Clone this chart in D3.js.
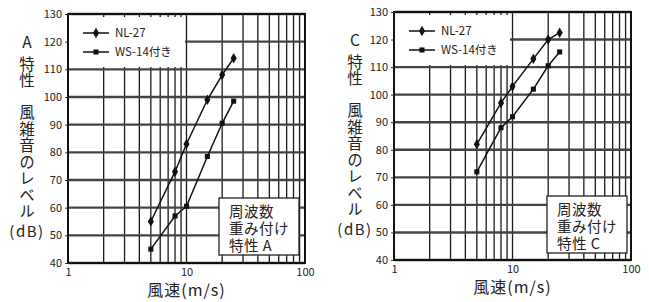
<!DOCTYPE html>
<html>
<head>
<meta charset="utf-8">
<script src="https://cdn.jsdelivr.net/npm/d3@7"></script>
<style>
  body { margin: 0; background: #fff; }
  text { font-family: "Noto Sans CJK JP", "DejaVu Sans", sans-serif; fill: #222; }
  .note { font-family: "Noto Sans CJK JP", sans-serif; font-size: 14.5px; line-height: 17px;
          color: #222; letter-spacing: 0.5px; padding: 4px 0 0 10px; margin: 0; }
</style>
</head>
<body>
<div id="chart"></div>
<script>
// wind speed (m/s) where each series was measured
const windSpeed = [5, 8, 10, 15, 20, 25];
const seriesNames = ["NL-27", "WS-14付き"];

// A-weighted wind noise level (dB)
const nlA = [55, 73, 83, 99, 108, 114];
const wsA = [45, 57, 60.5, 78.5, 90.5, 98.5];

// C-weighted wind noise level (dB)
const nlC = [82, 97, 103, 113, 120, 122.5];
const wsC = [72, 88, 92, 102, 110.5, 115.5];

const yTicks = [40, 50, 60, 70, 80, 90, 100, 110, 120, 130];
const xTickLabels = [1, 10, 100];

const svg = d3.select("#chart")
  .append("svg")
    .attr("width", 649)
    .attr("height", 302);

function drawPanel(p) {
  const x = d3.scaleLog().domain([1, 100]).range([p.left, p.right]);
  const y = d3.scaleLinear().domain([40, 130]).range([p.bottom, p.top]);
  const g = svg.append("g");

  // vertical log grid 1..100
  const xGrid = d3.range(1, 10).concat(d3.range(10, 101, 10));
  g.selectAll("vgrid")
    .data(xGrid)
    .enter()
    .append("line")
      .attr("x1", d => x(d)).attr("x2", d => x(d))
      .attr("y1", p.top).attr("y2", p.bottom)
      .attr("stroke", "#1a1a1a")
      .attr("stroke-width", 1.3);

  // horizontal grid
  g.selectAll("hgrid")
    .data(yTicks)
    .enter()
    .append("line")
      .attr("x1", p.left).attr("x2", p.right)
      .attr("y1", d => y(d)).attr("y2", d => y(d))
      .attr("stroke", "#444")
      .attr("stroke-width", 2.4);

  // legend box hides the grid under it
  g.append("rect")
    .attr("x", p.left + 1).attr("y", p.top + 3)
    .attr("width", p.legendW).attr("height", p.legendH)
    .attr("fill", "#fff");

  // frame
  g.append("rect")
    .attr("x", p.left).attr("y", p.top)
    .attr("width", p.right - p.left).attr("height", p.bottom - p.top)
    .attr("fill", "none")
    .attr("stroke", "#111")
    .attr("stroke-width", 2);

  // y axis: tick marks + labels
  const yAxis = g.append("g")
    .attr("transform", "translate(" + p.left + ",0)")
    .call(d3.axisLeft(y).tickValues(yTicks).tickSize(3).tickFormat(d3.format("d")));
  yAxis.select(".domain").remove();
  yAxis.selectAll("line").attr("stroke", "#333");
  yAxis.selectAll("text")
    .attr("font-size", 11)
    .attr("font-family", "'DejaVu Sans', sans-serif")
    .attr("fill", "#333");

  // x axis labels
  const xAxis = g.append("g")
    .attr("transform", "translate(0," + p.bottom + ")")
    .call(d3.axisBottom(x).tickValues(xTickLabels).tickSize(0).tickPadding(5).tickFormat(d3.format("d")));
  xAxis.select(".domain").remove();
  xAxis.selectAll("text")
    .attr("font-size", 11)
    .attr("font-family", "'DejaVu Sans', sans-serif")
    .attr("fill", "#333");

  // series
  const shapes = [d3.symbolDiamond, d3.symbolSquare];
  [p.nl, p.ws].forEach((vals, i) => {
    const pts = windSpeed.map((w, j) => [w, vals[j]]);
    g.append("path")
      .datum(pts)
      .attr("fill", "none")
      .attr("stroke", "#111")
      .attr("stroke-width", 1.5)
      .attr("d", d3.line().x(d => x(d[0])).y(d => y(d[1])));
    g.selectAll("mk" + i)
      .data(pts)
      .enter()
      .append("path")
        .attr("transform", d => "translate(" + x(d[0]) + "," + y(d[1]) + ")")
        .attr("d", d3.symbol().type(shapes[i]).size(i === 0 ? 32 : 26))
        .attr("fill", "#111");
  });

  // legend
  seriesNames.forEach((name, i) => {
    const ly = p.top + 19 + i * 19;
    g.append("line")
      .attr("x1", p.left + 15).attr("x2", p.left + 41)
      .attr("y1", ly).attr("y2", ly)
      .attr("stroke", "#111").attr("stroke-width", 1.5);
    g.append("path")
      .attr("transform", "translate(" + (p.left + 28) + "," + ly + ")")
      .attr("d", d3.symbol().type(shapes[i]).size(i === 0 ? 32 : 26))
      .attr("fill", "#111");
    g.append("text")
      .attr("x", p.left + 47).attr("y", ly)
      .attr("dy", "0.35em")
      .attr("font-size", 11.5)
      .attr("fill", "#333")
      .text(name);
  });

  // weighting note box, three lines in one block
  g.append("rect")
    .attr("x", p.noteX).attr("y", p.noteY)
    .attr("width", 80).attr("height", 57)
    .attr("fill", "#fff")
    .attr("stroke", "#222")
    .attr("stroke-width", 1.3);
  g.append("foreignObject")
    .attr("x", p.noteX).attr("y", p.noteY)
    .attr("width", 80).attr("height", 57)
    .append("xhtml:div")
      .attr("class", "note")
      .html("周波数<br>重み付け<br>特性 " + p.weight);

  // vertical y title: "A", then two vertical runs, then "(dB)"
  g.append("text")
    .attr("x", p.titleX).attr("y", p.top + 29)
    .attr("dy", "0.35em")
    .attr("text-anchor", "middle")
    .attr("font-size", 15.5)
    .text(p.weight);
  [["特性", 56], ["風雑音のレベル", 104.5]].forEach(([t, y0]) => {
    g.append("text")
      .attr("x", p.titleX).attr("y", y0 + p.top - 14)
      .attr("writing-mode", "vertical-rl")
      .attr("font-size", 15.5)
      .attr("letter-spacing", 1)
      .text(t);
  });
  g.append("text")
    .attr("x", p.titleX).attr("y", p.top + 218)
    .attr("dy", "0.35em")
    .attr("text-anchor", "middle")
    .attr("font-size", 15)
    .attr("letter-spacing", 1.5)
    .text("(dB)");

  // x title
  g.append("text")
    .attr("x", x(10)).attr("y", p.bottom + 27)
    .attr("dy", "0.35em")
    .attr("text-anchor", "middle")
    .attr("font-size", 16)
    .attr("letter-spacing", 1)
    .text("風速(m/s)");
}

drawPanel({left: 68, right: 305, top: 14, bottom: 263, legendW: 116, legendH: 50,
           nl: nlA, ws: wsA, weight: "A", noteX: 219, noteY: 198, titleX: 27});
drawPanel({left: 394, right: 631, top: 12, bottom: 260, legendW: 115, legendH: 50,
           nl: nlC, ws: wsC, weight: "C", noteX: 547, noteY: 196, titleX: 355});
</script>
</body>
</html>
